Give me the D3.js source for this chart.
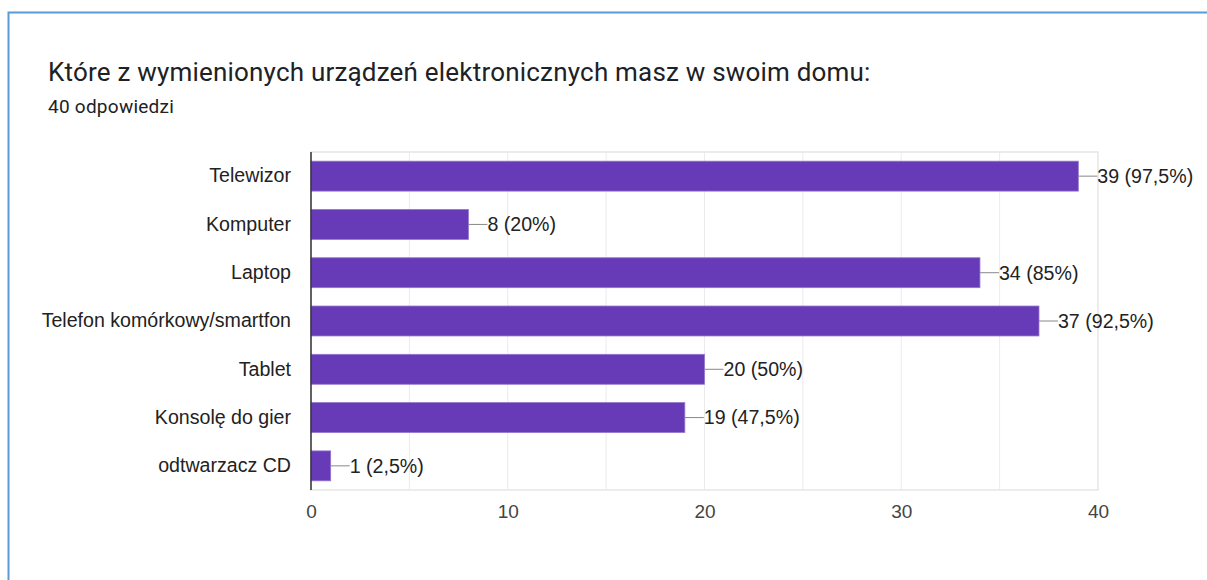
<!DOCTYPE html>
<html>
<head>
<meta charset="utf-8">
<script src="https://cdn.jsdelivr.net/npm/d3@7"></script>
<style>
  body { margin: 0; background: #fff; font-family: Roboto, Arial, sans-serif; }
  svg { display: block; }
</style>
</head>
<body>
<svg id="chart"></svg>
<script>
var width = 1207, height = 580;
var plot = { top: 152, bottom: 490, left: 311, right: 1098 };
var chartFont = "'Liberation Sans', Arial, sans-serif";

var categories = ["Telewizor", "Komputer", "Laptop", "Telefon komórkowy/smartfon", "Tablet", "Konsolę do gier", "odtwarzacz CD"];
var counts = [39, 8, 34, 37, 20, 19, 1];
var labels = ["39 (97,5%)", "8 (20%)", "34 (85%)", "37 (92,5%)", "20 (50%)", "19 (47,5%)", "1 (2,5%)"];
var xTicks = [0, 10, 20, 30, 40];
var gridTicks = [5, 10, 15, 20, 25, 30, 35];

var data = categories.map(function(c, i) {
  return { name: c, value: counts[i], label: labels[i] };
});

var svg = d3.select("#chart")
  .attr("width", width)
  .attr("height", height);

// card border (top and left edges visible)
svg.append("path")
  .attr("d", "M8.5," + height + " V12.5 H" + width)
  .attr("fill", "none")
  .attr("stroke", "#5b9bd5")
  .attr("stroke-width", 2);

svg.append("text")
  .attr("x", 48)
  .attr("y", 81)
  .attr("font-size", 26)
  .attr("letter-spacing", 0.2)
  .attr("fill", "#202124")
  .text("Które z wymienionych urządzeń elektronicznych masz w swoim domu:");

svg.append("text")
  .attr("x", 48)
  .attr("y", 113)
  .attr("font-size", 19)
  .attr("letter-spacing", 0.25)
  .attr("fill", "#202124")
  .text("40 odpowiedzi");

var xScale = d3.scaleLinear()
  .domain([0, 40])
  .range([plot.left, plot.right]);

var yScale = d3.scaleBand()
  .domain(categories)
  .range([plot.top, plot.bottom])
  .paddingInner(0.38)
  .paddingOuter(0.19);

// gridlines
svg.append("g")
  .selectAll("line")
  .data(gridTicks)
  .enter()
  .append("line")
    .attr("x1", d => xScale(d))
    .attr("x2", d => xScale(d))
    .attr("y1", plot.top)
    .attr("y2", plot.bottom)
    .attr("stroke", "#ebebeb")
    .attr("stroke-width", 1);

svg.append("rect")
  .attr("x", plot.left)
  .attr("y", plot.top)
  .attr("width", plot.right - plot.left)
  .attr("height", plot.bottom - plot.top)
  .attr("fill", "none")
  .attr("stroke", "#e6e6e6")
  .attr("stroke-width", 1.5);

// x axis labels
var xAxis = svg.append("g")
  .attr("transform", "translate(0," + plot.bottom + ")")
  .call(d3.axisBottom(xScale).tickValues(xTicks).tickSize(0).tickPadding(0));
xAxis.select(".domain").remove();
xAxis.selectAll("text")
  .attr("y", 28)
  .attr("dy", null)
  .attr("font-family", chartFont)
  .attr("font-size", 19)
  .attr("fill", "#444");

// y axis labels
var yAxis = svg.append("g")
  .attr("transform", "translate(" + (plot.left - 20) + ",0)")
  .call(d3.axisLeft(yScale).tickSize(0).tickPadding(0));
yAxis.select(".domain").remove();
yAxis.selectAll("text")
  .attr("font-family", chartFont)
  .attr("font-size", 19.6)
  .attr("fill", "#222");

// bars
svg.append("g")
  .selectAll("rect")
  .data(data)
  .enter()
  .append("rect")
    .attr("x", xScale(0))
    .attr("y", d => yScale(d.name))
    .attr("width", d => xScale(d.value) - xScale(0))
    .attr("height", yScale.bandwidth())
    .attr("fill", "#673ab7")
    .attr("stroke", "#9575cd")
    .attr("stroke-width", 0.8);

// leader lines and labels
var ann = svg.append("g")
  .selectAll("g")
  .data(data)
  .enter()
  .append("g");

ann.append("line")
  .attr("x1", d => xScale(d.value))
  .attr("x2", d => xScale(d.value) + 19)
  .attr("y1", d => yScale(d.name) + yScale.bandwidth() / 2)
  .attr("y2", d => yScale(d.name) + yScale.bandwidth() / 2)
  .attr("stroke", "#888")
  .attr("stroke-width", 1);

ann.append("text")
  .attr("x", d => xScale(d.value) + 19)
  .attr("y", d => yScale(d.name) + yScale.bandwidth() / 2)
  .attr("dy", "0.35em")
  .attr("font-family", chartFont)
  .attr("font-size", 19.6)
  .attr("fill", "#222")
  .text(d => d.label);

// vertical axis line at zero
svg.append("line")
  .attr("x1", xScale(0))
  .attr("x2", xScale(0))
  .attr("y1", plot.top)
  .attr("y2", plot.bottom)
  .attr("stroke", "#333")
  .attr("stroke-width", 1.5);
</script>
</body>
</html>
